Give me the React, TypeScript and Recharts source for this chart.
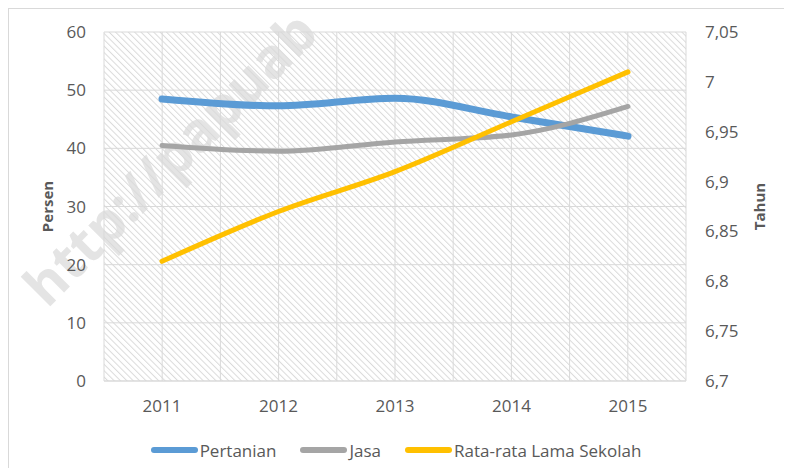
import {
  LineChart,
  Line,
  XAxis,
  YAxis,
  CartesianGrid,
  Legend,
} from "recharts";

const tahun = ["2011", "2012", "2013", "2014", "2015"];
const pertanian = [48.5, 47.3, 48.6, 45.4, 42.1];
const jasa = [40.5, 39.5, 41.1, 42.3, 47.2];
const rataLamaSekolah = [6.82, 6.87, 6.91, 6.96, 7.01];
const persenTicks = [0, 10, 20, 30, 40, 50, 60];
const tahunTicks = [6.7, 6.75, 6.8, 6.85, 6.9, 6.95, 7, 7.05];

const seriesInfo = [
  { key: "pertanian", name: "Pertanian", color: "#5B9BD5" },
  { key: "jasa", name: "Jasa", color: "#A5A5A5" },
  { key: "rls", name: "Rata-rata Lama Sekolah", color: "#FFC000" },
];

const data = tahun.map((t, i) => ({
  tahun: t,
  pertanian: pertanian[i],
  jasa: jasa[i],
  rls: rataLamaSekolah[i],
}));

const FONT = "'Open Sans', sans-serif";
const TEXT = "#595959";

const LegendBox = () => (
  <div
    style={{
      display: "flex",
      justifyContent: "center",
      alignItems: "center",
      height: 24,
      fontFamily: FONT,
      fontSize: 17,
      color: TEXT,
    }}
  >
    {seriesInfo.map((s, i) => (
      <div
        key={s.key}
        style={{ display: "flex", alignItems: "center", marginLeft: i ? 24 : 0 }}
      >
        <span
          style={{
            display: "inline-block",
            width: 47,
            height: 6,
            borderRadius: 3,
            background: s.color,
            marginRight: 2,
          }}
        />
        <span>{s.name}</span>
      </div>
    ))}
  </div>
);

const App = () => {
  return (
    <div style={{ position: "relative", width: 792, height: 476, margin: -8, overflow: "hidden", background: "#fff" }}>
      <svg width={0} height={0} style={{ position: "absolute" }}>
        <defs>
          <pattern id="hatch" width={4.5} height={4.5} patternUnits="userSpaceOnUse" patternTransform="rotate(-45)">
            <line x1={0} y1={0} x2={0} y2={4.5} stroke="#dadada" strokeWidth={2} />
          </pattern>
        </defs>
      </svg>
      <div
        style={{
          position: "absolute",
          left: 8,
          top: 8,
          right: 0,
          bottom: 0,
          borderLeft: "1px solid #d9d9d9",
          borderTop: "1px solid #d9d9d9",
        }}
      />
      {/* watermark from the source image */}
      <div
        style={{
          position: "absolute",
          left: 50,
          top: 262,
          height: 50,
          lineHeight: "50px",
          fontFamily: FONT,
          fontWeight: 700,
          fontSize: 55,
          color: "#e4e4e4",
          whiteSpace: "nowrap",
          transform: "rotate(-45deg)",
          transformOrigin: "0 100%",
        }}
      >
        http://papuab
      </div>
      <div style={{ position: "absolute", left: 0, top: 0 }}>
        <LineChart
          width={792}
          height={476}
          data={data}
          margin={{ top: 32, right: 0, left: 0, bottom: 31 }}
        >
          <CartesianGrid
            yAxisId="left"
            stroke="#d9d9d9"
            strokeWidth={1}
            fill="url(#hatch)"
            horizontal
            vertical
            verticalCoordinatesGenerator={({ offset }: any) =>
              Array.from({ length: 11 }, (_, i) => offset.left + (offset.width * i) / 10)
            }
          />
          <XAxis
            dataKey="tahun"
            height={40}
            padding={{ left: 58, right: 58 }}
            axisLine={{ stroke: "#d9d9d9" }}
            tickLine={false}
            tickSize={0}
            tickMargin={19}
            tick={{ fill: TEXT, fontFamily: FONT, fontSize: 17 }}
          />
          <YAxis
            yAxisId="left"
            width={104}
            domain={[0, 60]}
            ticks={persenTicks}
            axisLine={false}
            tickLine={false}
            tickSize={0}
            tickMargin={18}
            tick={{ fill: TEXT, fontFamily: FONT, fontSize: 17 }}
            label={{
              value: "Persen",
              angle: -90,
              position: "center",
              dx: -4,
              fill: TEXT,
              fontFamily: FONT,
              fontSize: 15,
              fontWeight: 700,
            }}
          />
          <YAxis
            yAxisId="right"
            orientation="right"
            width={106}
            domain={[6.7, 7.05]}
            ticks={tahunTicks}
            allowDataOverflow
            axisLine={false}
            tickLine={false}
            tickSize={0}
            tickMargin={19}
            tickFormatter={(v: number) => String(v).replace(".", ",")}
            tick={{ fill: TEXT, fontFamily: FONT, fontSize: 17 }}
            label={{
              value: "Tahun",
              angle: -90,
              position: "center",
              dx: 21,
              fill: TEXT,
              fontFamily: FONT,
              fontSize: 15,
              fontWeight: 700,
            }}
          />
          <Legend
            verticalAlign="bottom"
            content={() => <LegendBox />}
            wrapperStyle={{ bottom: 14, left: 0, width: 792, height: 24 }}
          />
          {seriesInfo.map((s) => (
            <Line
              key={s.key}
              yAxisId={s.key === "rls" ? "right" : "left"}
              type="monotone"
              dataKey={s.key}
              name={s.name}
              stroke={s.color}
              strokeWidth={s.key === "pertanian" ? 7 : 5}
              strokeLinecap="round"
              dot={false}
              activeDot={false}
              isAnimationActive={false}
            />
          ))}
        </LineChart>
      </div>
    </div>
  );
};

export default App;
